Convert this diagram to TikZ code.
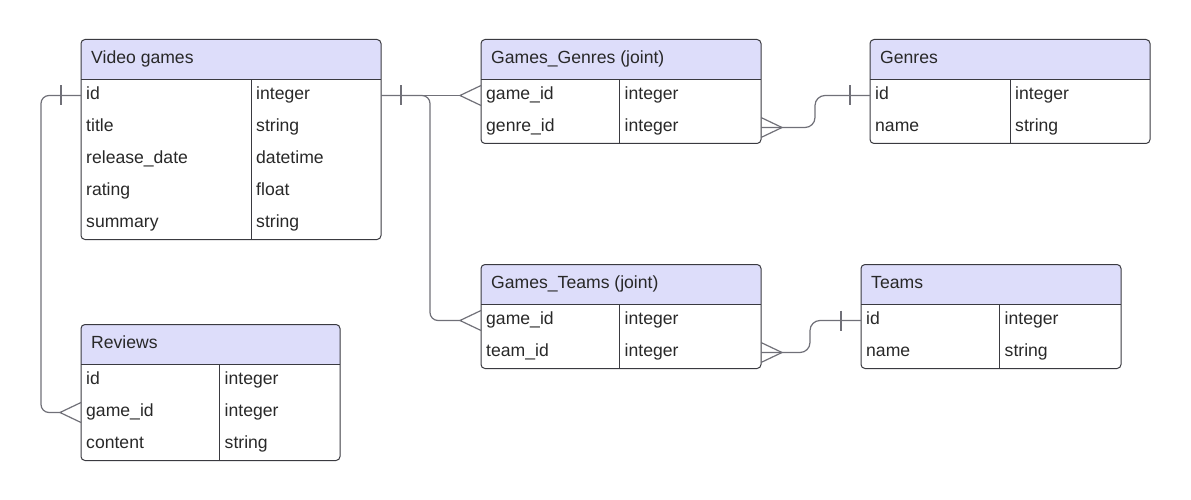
\documentclass[tikz,border=0pt]{standalone}
\usepackage{fontspec}
\setmainfont{Liberation Sans}
\usetikzlibrary{calc}
\definecolor{HeadClr}{RGB}{221,221,250}
\definecolor{BoxClr}{RGB}{58,58,64}
\definecolor{LinkClr}{RGB}{112,112,120}
\definecolor{TxtClr}{RGB}{40,40,40}

% table: name, left, top, width, first column, rows, title, field/type list
\newcommand{\erTable}[8]{%
  \fill[HeadClr] (#2,#3+40) [rounded corners=4pt] -- (#2,#3) -- (#2+#4,#3) [sharp corners] -- (#2+#4,#3+40) -- cycle;
  \node[tblbox,minimum width=#4,minimum height={40+32*#6},anchor=north west] (#1) at (#2,#3) {};
  \node[headtxt] (#1-h) at (#2+10,#3+24) {#7};
  \draw[boxline] (#2,#3+40) -- (#2+#4,#3+40);
  \draw[boxline] (#2+#5,#3+40) -- (#2+#5,#3+40+32*#6);
  \foreach \fld/\typ [count=\i] in {#8}{
    \node[rowbox,minimum width=#4,anchor=north west] (#1-\i) at (#2,#3+8+32*\i) {};
    \node[celltxt] (#1-\i-f) at (#2+5,#3+28+32*\i) {\fld};
    \node[celltxt] (#1-\i-t) at (#2+#5+5,#3+28+32*\i) {\typ};
  }%
}

\begin{document}
\begin{tikzpicture}[x=1pt,y=-1pt,
  tblbox/.style={draw=BoxClr,line width=1pt,rounded corners=4pt,inner sep=0pt,outer sep=0pt},
  boxline/.style={draw=BoxClr,line width=1pt},
  rowbox/.style={minimum height=32,inner sep=0pt,outer sep=0pt},
  headtxt/.style={anchor=base west,inner sep=0pt,text=TxtClr,font=\fontsize{17.6}{21}\selectfont},
  celltxt/.style={anchor=base west,inner sep=0pt,text=TxtClr,font=\fontsize{17.6}{21}\selectfont},
  link/.style={draw=LinkClr,line width=1.2pt},
  crowfoot/.pic={\draw[link] (0,-10) -- (-21,0) -- (0,10);},
  onemark/.pic={\draw[link] (-20,-10) -- (-20,10);}]
\useasboundingbox (0,0) rectangle (1191,500);

\erTable{vg}{81}{39.5}{300}{170}{5}{Video games}{id/integer,title/string,release\_date/datetime,rating/float,summary/string}
\erTable{rv}{81}{324.5}{259}{138.5}{3}{Reviews}{id/integer,game\_id/integer,content/string}
\erTable{gg}{481}{39.5}{280}{138.5}{2}{Games\_Genres (joint)}{game\_id/integer,genre\_id/integer}
\erTable{gn}{870}{39.5}{280}{140}{2}{Genres}{id/integer,name/string}
\erTable{gt}{481}{264.5}{280}{138.5}{2}{Games\_Teams (joint)}{game\_id/integer,team\_id/integer}
\erTable{tm}{861}{264.5}{260}{138.5}{2}{Teams}{id/integer,name/string}

% links
\draw[link,rounded corners=8pt] (vg-1.west) -- ++(-40,0) |- ([xshift=-21pt]rv-2.west);
\draw[link] (vg-1.east) -- ([xshift=-21pt]gg-1.west);
\draw[link,rounded corners=8pt] (vg-1.east) -- ++(49,0) |- ([xshift=-21pt]gt-1.west);
\draw[link,rounded corners=10pt] (gg-2.east) -- ++(54,0) |- (gn-1.west);
\draw[link,rounded corners=10pt] (gt-2.east) -- ++(49,0) |- (tm-1.west);

\path (vg-1.west) pic {onemark};
\path (vg-1.east) pic[xscale=-1] {onemark};
\path (gn-1.west) pic {onemark};
\path (tm-1.west) pic {onemark};
\path (rv-2.west) pic {crowfoot};
\path (gg-1.west) pic {crowfoot};
\path (gt-1.west) pic {crowfoot};
\path (gg-2.east) pic[xscale=-1] {crowfoot};
\path (gt-2.east) pic[xscale=-1] {crowfoot};

\end{tikzpicture}
\end{document}
